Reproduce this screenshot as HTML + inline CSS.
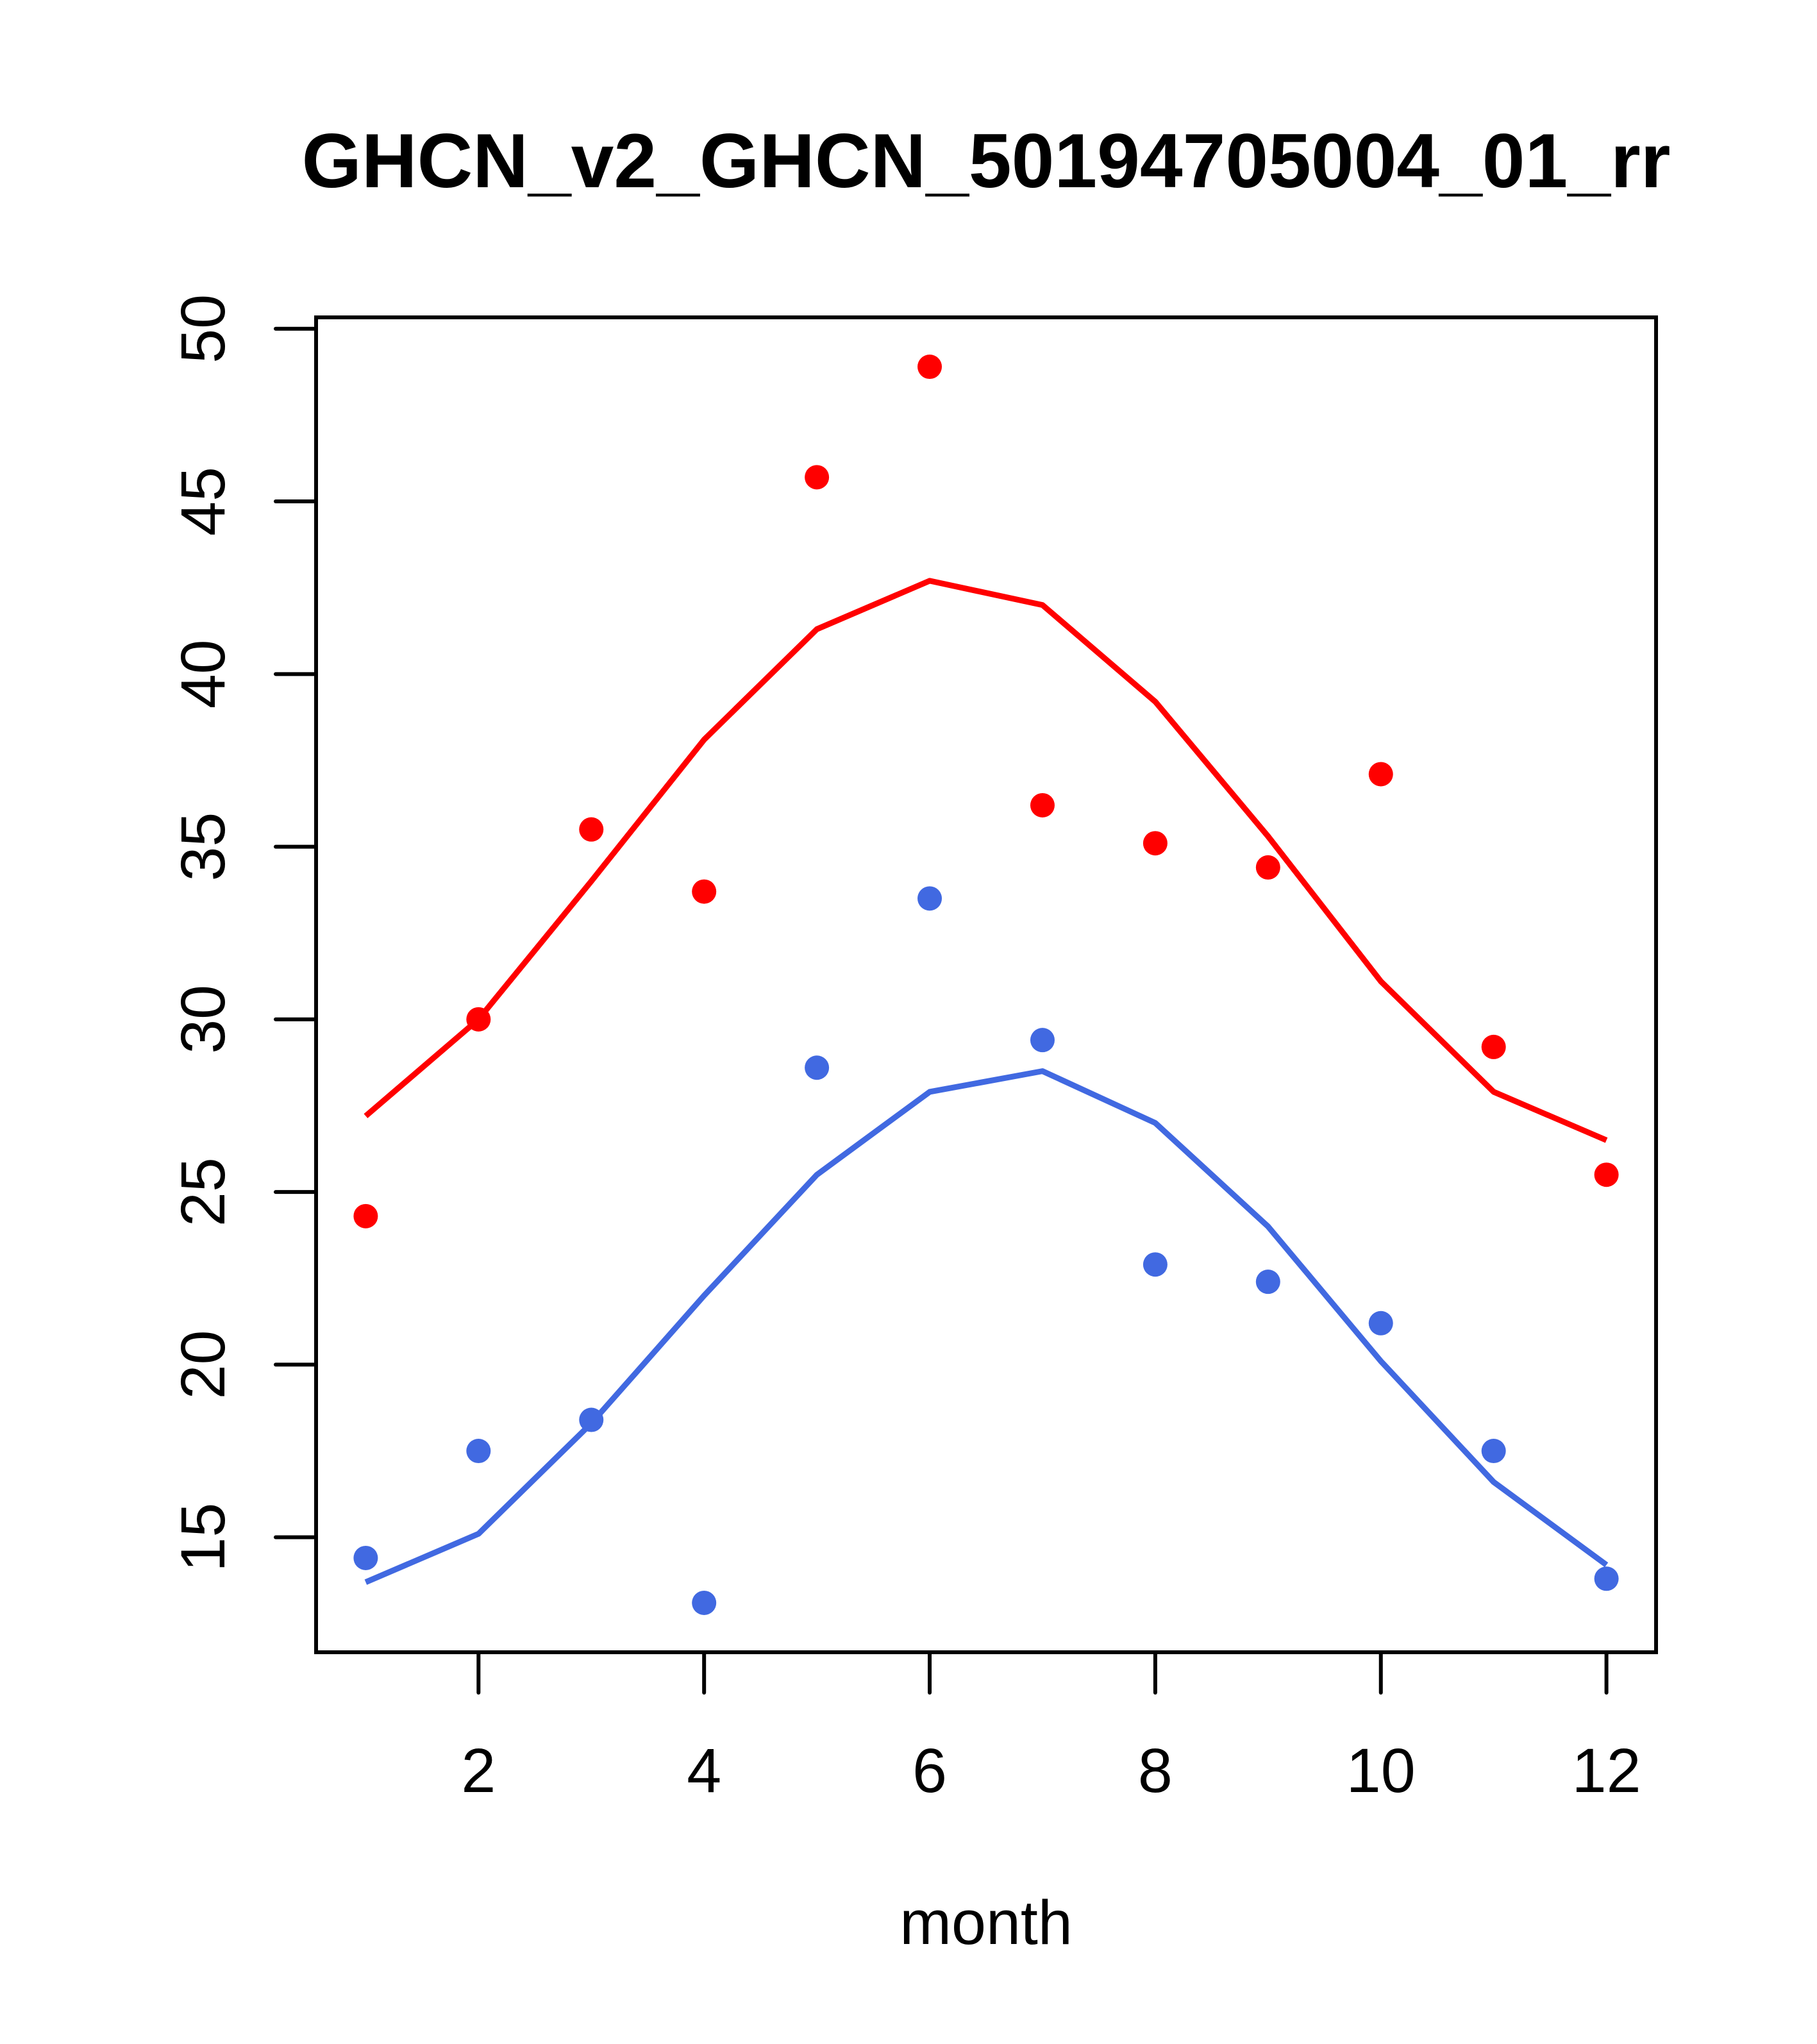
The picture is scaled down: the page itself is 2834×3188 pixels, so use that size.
<!DOCTYPE html>
<html><head><meta charset="utf-8"><style>html,body{margin:0;padding:0;background:#fff}svg{display:block}</style></head>
<body>
<svg id="chart" width="2834" height="3188" viewBox="0 0 2834 3188" xmlns="http://www.w3.org/2000/svg" font-family="'Liberation Sans', Arial, sans-serif">
<rect width="2834" height="3188" fill="#fff"/>
<text x="1538" y="292" font-size="120" font-weight="bold" text-anchor="middle">GHCN_v2_GHCN_50194705004_01_rr</text>
<text x="1538" y="3032" font-size="97" text-anchor="middle">month</text>
<g id="axes"></g>
<g id="marks"></g>
<rect x="493" y="495" width="2090" height="2082" fill="none" stroke="#000" stroke-width="6"/>
</svg>
<script>
const months = [1,2,3,4,5,6,7,8,9,10,11,12];
const redPoints = [24.3,30.0,35.5,33.7,45.7,48.9,36.2,35.1,34.4,37.1,29.2,25.5];
const redLine = [27.2,30.0,34.0,38.1,41.3,42.7,42.0,39.2,35.3,31.1,27.9,26.5];
const bluePoints = [14.4,17.5,18.4,13.1,28.6,33.5,29.4,22.9,22.4,21.2,17.5,13.8];
const blueLine = [13.7,15.1,18.3,22.0,25.5,27.9,28.5,27.0,24.0,20.1,16.6,14.2];
const xTicks = [2,4,6,8,10,12];
const yTicks = [15,20,25,30,35,40,45,50];

const NS = 'http://www.w3.org/2000/svg';
const L=493,R=2583,T=495,B=2577;
const xMin=0.56,xMax=12.44,yMin=11.67,yMax=50.33;
function xs(v){return L+(v-xMin)/(xMax-xMin)*(R-L);}
function ys(v){return B-(v-yMin)/(yMax-yMin)*(B-T);}
function mk(tag,attrs,parent){const e=document.createElementNS(NS,tag);for(const k in attrs)e.setAttribute(k,attrs[k]);parent.appendChild(e);return e;}
const axes=document.getElementById('axes'), marks=document.getElementById('marks');

xTicks.forEach(t=>{
  const l=mk('line',{x1:xs(t),x2:xs(t),y1:B,y2:B+63,stroke:'#000','stroke-width':6,'stroke-linecap':'round'},axes);
  
  
  const tx=mk('text',{x:xs(t),y:2795,'font-size':97,'text-anchor':'middle'},axes);
  tx.textContent=t;
  
  
});
yTicks.forEach(t=>{
  const l=mk('line',{x1:L-63,x2:L,y1:ys(t),y2:ys(t),stroke:'#000','stroke-width':6,'stroke-linecap':'round'},axes);
  
  
  const tx=mk('text',{x:0,y:0,'font-size':97,'text-anchor':'middle',transform:`translate(350,${ys(t)}) rotate(-90)`},axes);
  tx.textContent=t;
  
  
});
function line(vals,color,name){
  const p=mk('polyline',{points:vals.map((v,i)=>xs(months[i])+','+ys(v)).join(' '),fill:'none',stroke:color,'stroke-width':9,'stroke-linejoin':'round'},marks);
  
  
}
function pts(vals,color,name){
  vals.forEach((v,i)=>{
    const c=mk('circle',{cx:xs(months[i]),cy:ys(v),r:19,fill:color},marks);
    
    
  });
}
line(redLine,'#ff0000','red-line');
line(blueLine,'#4169e1','blue-line');
pts(redPoints,'#ff0000','red-point');
pts(bluePoints,'#4169e1','blue-point');
</script>
</body></html>
